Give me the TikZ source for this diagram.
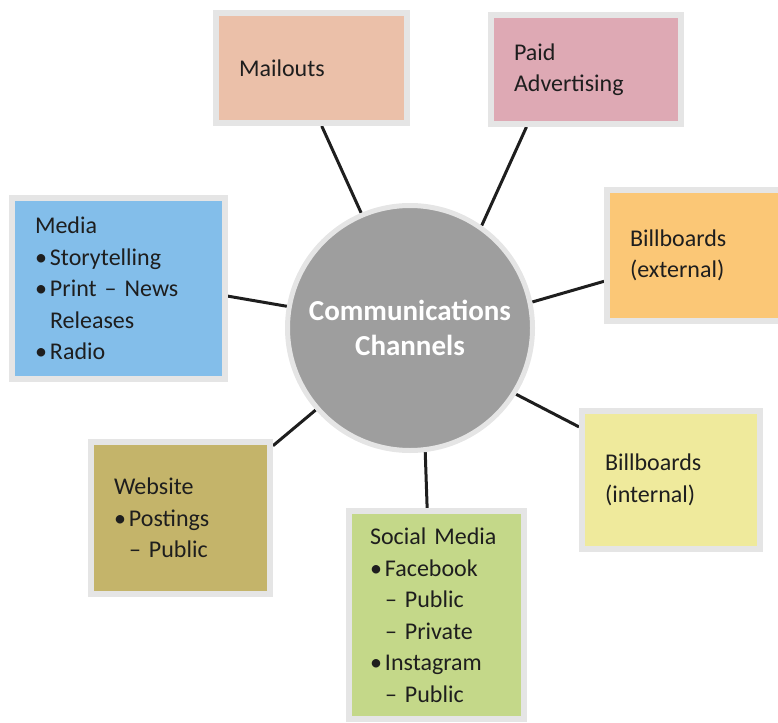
\documentclass[tikz,border=0pt]{standalone}
\usepackage{fontspec}
\setmainfont{Carlito}
\usetikzlibrary{backgrounds}

\definecolor{ink}{HTML}{1E1E1E}
\definecolor{boxedge}{HTML}{E5E5E5}
\definecolor{hubfill}{HTML}{9E9E9E}
\definecolor{mailfill}{HTML}{EBC0A9}
\definecolor{paidfill}{HTML}{DEA9B4}
\definecolor{extfill}{HTML}{FBC776}
\definecolor{mediafill}{HTML}{83BEEA}
\definecolor{intfill}{HTML}{EFEA9C}
\definecolor{webfill}{HTML}{C4B46A}
\definecolor{socialfill}{HTML}{C4D889}

% bullet with a fixed indent, and the matching indent for follow-on lines
\newcommand{\bulitem}{\makebox[15pt][l]{•}}
\newcommand{\indline}{\hspace*{15pt}}

\begin{document}
\begin{tikzpicture}[x=1pt,y=-1pt,
  chan/.style={draw=boxedge, line width=6pt, align=left, inner xsep=23pt,
    inner ysep=0pt, text=ink, font=\fontsize{24}{31.5}\selectfont},
  link/.style={line width=3pt, draw=ink}]
\useasboundingbox (0,0) rectangle (778,722);
\clip (0,0) rectangle (778,722);

% central hub
\node[circle, draw=boxedge, line width=5pt, fill=hubfill, minimum size=245pt,
  inner sep=0pt, text=white, align=center,
  font=\bfseries\fontsize{29}{35}\selectfont] (hub) at (410,328)
  {Communications\\Channels};

% channel boxes
\node[chan, fill=mailfill, minimum width=191pt, minimum height=110pt,
  text width=145pt] (mail) at (311.5,68) {Mailouts};
\node[chan, fill=paidfill, minimum width=190pt, minimum height=109pt,
  text width=144pt] (paid) at (586,69.5) {Paid\\Advertising};
\node[chan, fill=extfill, minimum width=174pt, minimum height=131pt,
  text width=128pt] (bbext) at (694,255.5) {Billboards\\(external)};
\node[chan, fill=mediafill, minimum width=213pt, minimum height=181pt,
  text width=167pt] (media) at (118.5,288.5)
  {Media\\\bulitem Storytelling\\\bulitem Print – News\\\indline Releases\\\bulitem Radio};
\node[chan, fill=intfill, minimum width=178pt, minimum height=138pt,
  text width=132pt] (bbint) at (671,480) {Billboards\\(internal)};
\node[chan, fill=webfill, minimum width=179pt, minimum height=152pt,
  text width=133pt] (web) at (180.5,518)
  {Website\\\bulitem Postings\\\indline – Public};
\node[chan, fill=socialfill, inner xsep=21pt, minimum width=175pt,
  minimum height=208pt, text width=133pt] (social) at (436.5,615)
  {Social Media\\\bulitem Facebook\\\indline – Public\\\indline – Private\\\bulitem Instagram\\\indline – Public};

% spokes
\begin{scope}[on background layer]
  \draw[link] (hub.113.7) -- (mail.-80.4);
  \draw[link] (hub.55) -- (paid.-136.8);
  \draw[link] (hub.12.6) -- (bbext.196.3);
  \draw[link] (hub.-32.1) -- (bbint.150.7);
  \draw[link] (hub.-83.2) -- (social.95.2);
  \draw[link] (hub.-139.9) -- (web.38.8);
  \draw[link] (hub.170.4) -- (media.-4);
\end{scope}
\end{tikzpicture}
\end{document}
